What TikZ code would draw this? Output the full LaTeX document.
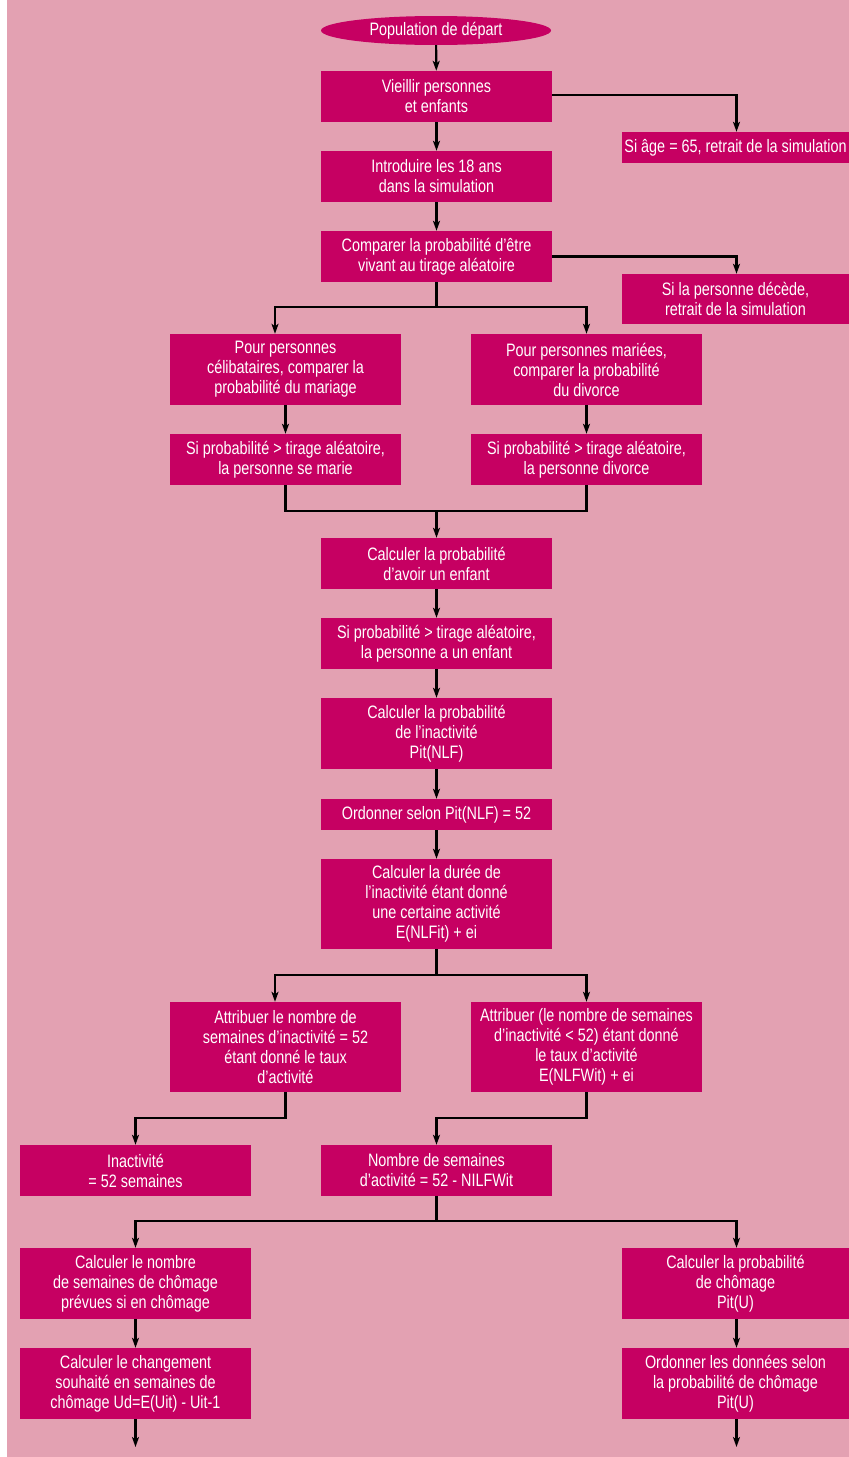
\documentclass[tikz,border=0pt]{standalone}
\usepackage{fontspec}
\setmainfont{Liberation Sans}[FakeStretch=0.8]
\usetikzlibrary{arrows.meta,shapes.geometric,calc}
\definecolor{bgc}{RGB}{227,161,178}
\definecolor{boxc}{RGB}{198,0,98}
\begin{document}
\begin{tikzpicture}[x=1pt,y=-1pt,
  bx/.style={fill=boxc,text=white,inner sep=0pt,align=center,
    font=\fontsize{18}{20}\selectfont,minimum width=231,minimum height=51},
  rbx/.style={bx,minimum width=227},
  ln/.style={line width=2.2pt,black},
  arr/.style={ln,-{Stealth[length=10pt,width=7pt,inset=2.5pt]}}]
\useasboundingbox (0,0) rectangle (849,1457);
\fill[white] (0,0) rectangle (849,1457);
\fill[bgc] (7,0) rectangle (849,1457);

\node[ellipse,fill=boxc,text=white,inner sep=0pt,minimum width=230,minimum height=29,
  font=\fontsize{18}{20}\selectfont] (e1) at (436,30.5) {Population de départ};
\node[bx] (b2) at (436.5,96.5) {Vieillir personnes\\et enfants};
\node[rbx,minimum height=31] (b3) at (735.5,147.5) {Si âge = 65, retrait de la simulation};
\node[bx] (b4) at (436.5,176.5) {Introduire les 18 ans\\dans la simulation};
\node[bx] (b5) at (436.5,256.5) {Comparer la probabilité d’être\\vivant au tirage aléatoire};
\node[rbx,minimum height=50] (b6) at (735.5,299) {Si la personne décède,\\retrait de la simulation};
\node[bx,minimum height=71] (b7) at (285.5,369.5) {Pour personnes\\célibataires, comparer la\\probabilité du mariage};
\node[bx,minimum height=71] (b8) at (586.5,369.5) {Pour personnes mariées,\\comparer la probabilité\\du divorce};
\node[bx] (b9) at (285.5,459.5) {Si probabilité > tirage aléatoire,\\la personne se marie};
\node[bx] (b10) at (586.5,459.5) {Si probabilité > tirage aléatoire,\\la personne divorce};
\node[bx] (b11) at (436.5,563.5) {Calculer la probabilité\\d’avoir un enfant};
\node[bx] (b12) at (436.5,643.5) {Si probabilité > tirage aléatoire,\\la personne a un enfant};
\node[bx,minimum height=71] (b13) at (436.5,733.5) {Calculer la probabilité\\de l’inactivité\\Pit(NLF)};
\node[bx,minimum height=31] (b14) at (436.5,814.5) {Ordonner selon Pit(NLF) = 52};
\node[bx,minimum height=90] (b15) at (436.5,904) {Calculer la durée de\\l’inactivité étant donné\\une certaine activité\\E(NLFit) + ei};
\node[bx,minimum height=90] (b16) at (285.5,1047) {Attribuer le nombre de\\semaines d’inactivité = 52\\étant donné le taux\\d’activité};
\node[bx,minimum height=90] (b17) at (586.5,1047) {Attribuer (le nombre de semaines\\d’inactivité < 52) étant donné\\le taux d’activité\\E(NLFWit) + ei};
\node[bx] (b18) at (135.5,1170.5) {Inactivité\\= 52 semaines};
\node[bx] (b19) at (436.5,1170.5) {Nombre de semaines\\d’activité = 52 - NILFWit};
\node[bx,minimum height=71] (b20) at (135.5,1283.5) {Calculer le nombre\\de semaines de chômage\\prévues si en chômage};
\node[rbx,minimum height=71] (b21) at (735.5,1283.5) {Calculer la probabilité\\de chômage\\Pit(U)};
\node[bx,minimum height=71] (b22) at (135.5,1383.5) {Calculer le changement\\souhaité en semaines de\\chômage Ud=E(Uit) - Uit-1};
\node[rbx,minimum height=71] (b23) at (735.5,1383.5) {Ordonner les données selon\\la probabilité de chômage\\Pit(U)};

\coordinate (j1) at (436.5,307);
\coordinate (j2) at (436.5,511);
\coordinate (j3) at (436.5,975);
\coordinate (j4) at (436.5,1221);
\coordinate (end1) at (135.5,1447);
\coordinate (end2) at (736.5,1447);

\draw[arr] (e1) -- (b2);
\draw[arr] ([yshift=1.5]b2.east) -| ([xshift=1]b3.north);
\draw[arr] (b2) -- (b4);
\draw[arr] (b4) -- (b5);
\draw[arr] (b5.east) -| ([xshift=1]b6.north);
\draw[ln] (b5.south) -- (j1);
\draw[arr] (j1) -| ([xshift=-10.5]b7.north);
\draw[arr] (j1) -| (b8.north);
\draw[arr] (b7) -- (b9);
\draw[arr] (b8) -- (b10);
\draw[ln] (b9.south) |- (j2) -| (b10.south);
\draw[arr] (j2) -- (b11.north);
\draw[arr] (b11) -- (b12);
\draw[arr] (b12) -- (b13);
\draw[arr] (b13) -- (b14);
\draw[arr] (b14) -- (b15);
\draw[ln] (b15.south) -- (j3);
\draw[arr] (j3) -| ([xshift=-10.5]b16.north);
\draw[arr] (j3) -| (b17.north);
\draw[arr] (b16.south) -- ++(0,26) -| (b18.north);
\draw[arr] (b17.south) -- ++(0,26) -| (b19.north);
\draw[ln] (b19.south) -- (j4);
\draw[arr] (j4) -| (b20.north);
\draw[arr] (j4) -| ([xshift=1]b21.north);
\draw[arr] (b20) -- (b22);
\draw[arr] ([xshift=1]b21.south) -- ([xshift=1]b23.north);
\draw[arr] (b22.south) -- (end1);
\draw[arr] ([xshift=1]b23.south) -- (end2);
\end{tikzpicture}
\end{document}
